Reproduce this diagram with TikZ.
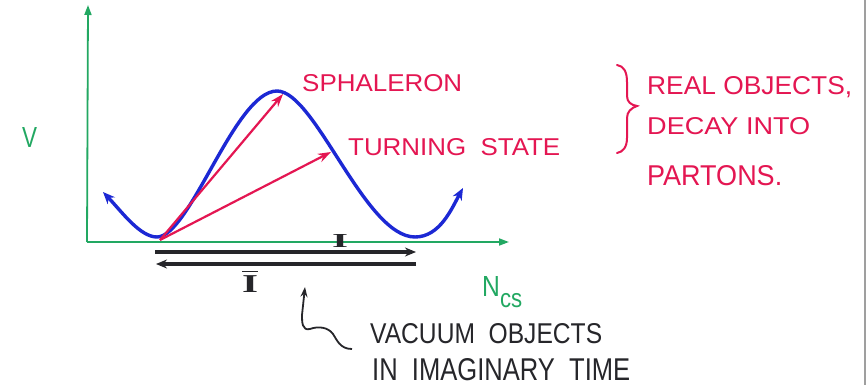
\documentclass[tikz,border=0pt]{standalone}
\usepackage{fontspec}
\setmainfont{Liberation Sans}
\newfontfamily\serifI{Liberation Serif}
\usetikzlibrary{arrows.meta}
\definecolor{hred}{RGB}{228,22,82}
\definecolor{hblue}{RGB}{28,40,212}
\definecolor{hgreen}{RGB}{34,168,98}
\definecolor{hblack}{RGB}{38,38,42}
\newcommand\fitt[3]{\resizebox{#1pt}{#2pt}{#3}}
\tikzset{
  lbl/.style={inner sep=0pt, anchor=base west},
  redtxt/.style={lbl, text=hred},
  blktxt/.style={lbl, text=hblack},
  grntxt/.style={lbl, text=hgreen},
  axis/.style={draw=hgreen, line width=1.8pt, -{Triangle[length=10pt,width=7pt]}},
  potential/.style={draw=hblue, line width=3.4pt, line cap=round,
    {Stealth[length=12pt,width=10pt]}-{Stealth[length=12pt,width=10pt]}},
  redarrow/.style={draw=hred, line width=2.2pt, -{Stealth[length=13pt,width=9pt]}},
  blkarrow/.style={draw=hblack, line width=3.2pt, -{Stealth[length=11pt,width=9pt]}},
  squig/.style={draw=hblack, line width=1.8pt, -{Stealth[length=10pt,width=7pt]}},
}
\begin{document}
\begin{tikzpicture}[x=1pt,y=-1pt]
\useasboundingbox (0,0) rectangle (867,385);
\fill[white] (0,0) rectangle (867,385);
\draw[gray!75, line width=2.4pt] (865,0) -- (865,385);

% axes
\coordinate (O) at (87,242);
\coordinate (ytop) at (88,5);
\coordinate (xend) at (509,242);
\draw[axis] (O) -- (ytop);
\draw[axis] (O) -- (xend);
\node[grntxt] (V) at (22,148) {\fitt{15}{20}{V}};
\node[grntxt] (Ncs) at (482,296) {\fitt{40}{20}{N\raisebox{-4pt}{\small cs}}};

% potential curve
\coordinate (cl) at (103,192);
\coordinate (m1) at (157,237);
\coordinate (pk) at (277,91);
\coordinate (m2) at (415,237);
\coordinate (cr) at (463,188);
\draw[potential] (cl) .. controls (122,212) and (140,237) .. (m1)
  .. controls (190,237) and (235,91) .. (pk)
  .. controls (315,91) and (365,237) .. (m2)
  .. controls (440,237) and (452,208) .. (cr);

% red arrows
\coordinate (rs) at (160,240);
\coordinate (sph) at (283,94);
\coordinate (trn) at (331,152);
\draw[redarrow] (rs) -- (sph);
\draw[redarrow] (rs) -- (trn);

\node[redtxt] (tsph) at (302,92) {\fitt{160}{17}{SPHALERON}};
\node[redtxt] (ttrn) at (348,155) {\fitt{212}{17}{TURNING\ \ STATE}};

% brace
\coordinate (bt) at (617,65);
\coordinate (bm) at (637,106);
\coordinate (bb) at (617,153);
\draw[hred, line width=2pt, line cap=round]
  (bt) .. controls (624,66) and (627,72) .. (627,82)
  -- (627,96) .. controls (627,102) and (631,105) .. (bm)
  .. controls (631,108) and (627,112) .. (627,118)
  -- (627,138) .. controls (627,147) and (623,152) .. (bb);
\node[redtxt] (t1) at (647,95) {\fitt{205}{18}{REAL OBJECTS,}};
\node[redtxt] (t2) at (647,135) {\fitt{163}{17}{DECAY INTO}};
\node[redtxt] (t3) at (647,185) {\fitt{135}{20}{PARTONS.}};

% instanton arrows
\coordinate (ia) at (155,252);
\coordinate (ib) at (416,252);
\coordinate (aa) at (416,264);
\coordinate (ab) at (156,264);
\draw[blkarrow] (ia) -- (ib);
\draw[blkarrow] (aa) -- (ab);
\node[blktxt] (I) at (332,247) {\fitt{16}{13}{\serifI\bfseries I}};
\node[blktxt] (Ibar) at (242,292) {\fitt{16}{22}{\serifI\bfseries $\overline{\hbox{\serifI\bfseries I}}$}};

% squiggle arrow
\coordinate (sq0) at (352,349);
\coordinate (sq1) at (305,287);
\draw[squig] (sq0) .. controls (340,349) and (337,340) .. (333,334)
  .. controls (328,327) and (318,326) .. (310,329)
  .. controls (302,331) and (302,322) .. (302,315)
  -- (sq1);

\node[blktxt] (v1) at (370,343) {\fitt{232}{20}{VACUUM\ \ OBJECTS}};
\node[blktxt] (v2) at (372,380) {\fitt{258}{22}{IN\ \ IMAGINARY\ \ TIME}};
\end{tikzpicture}
\end{document}
